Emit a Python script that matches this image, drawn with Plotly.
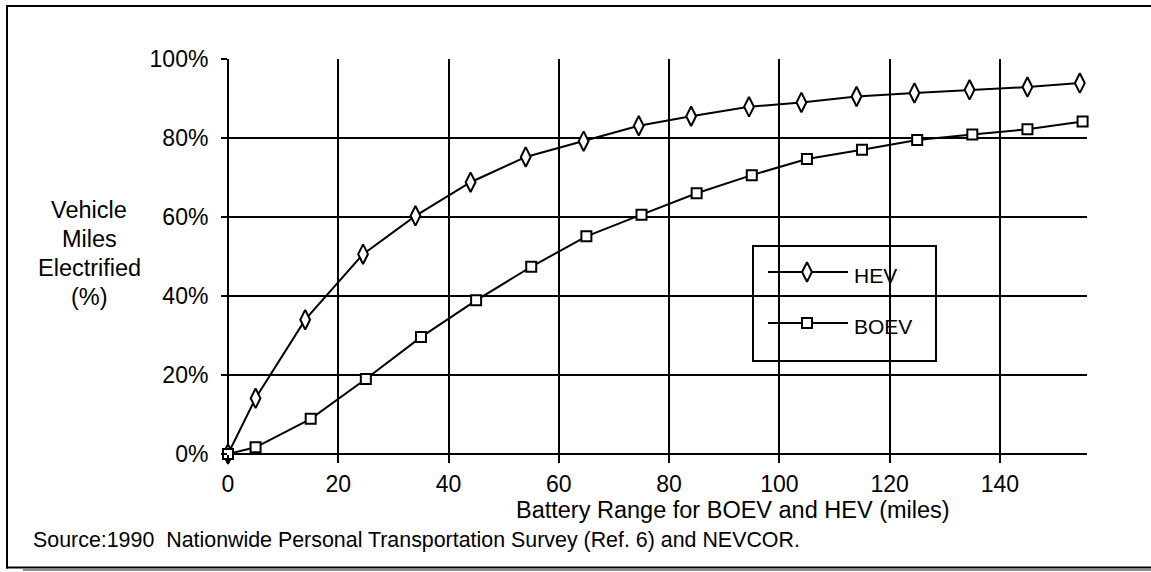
import plotly.graph_objects as go

# Battery range (miles) and share of vehicle miles electrified (%)
hev_range = [0, 5, 14, 24.5, 34, 44, 54, 64.5, 74.5, 84, 94.5, 104, 114, 124.5, 134.5, 145, 154.5]
hev_pct = [0, 14.1, 34.0, 50.6, 60.3, 68.8, 75.2, 79.2, 83.1, 85.5, 87.9, 89.0, 90.5, 91.4, 92.2, 92.9, 93.9]

boev_range = [0, 5, 15, 25, 35, 45, 55, 65, 75, 85, 95, 105, 115, 125, 135, 145, 155]
boev_pct = [0, 1.7, 8.9, 19.0, 29.6, 38.9, 47.4, 55.1, 60.6, 66.0, 70.6, 74.7, 77.0, 79.5, 80.9, 82.2, 84.2]

x_ticks = [0, 20, 40, 60, 80, 100, 120, 140]
y_ticks = [0, 20, 40, 60, 80, 100]
y_tick_labels = ['0%', '20%', '40%', '60%', '80%', '100%']
y_title_lines = ['Vehicle', 'Miles', 'Electrified', '(%)']

FONT = 'Liberation Sans, Arial, sans-serif'

W, H = 1151, 572
# plot area in pixels
L, R, T, B = 228, 1087, 59, 454


def px(x):
    return (x - L) / (R - L)


def py(y):
    return (B - y) / (B - T)


fig = go.Figure()

fig.add_trace(go.Scatter(
    x=hev_range, y=hev_pct, mode='lines+markers', name='HEV',
    line=dict(color='black', width=2),
    marker=dict(symbol='diamond-tall', size=14, color='white',
                line=dict(color='black', width=2)),
    cliponaxis=False, showlegend=False
))

fig.add_trace(go.Scatter(
    x=boev_range, y=boev_pct, mode='lines+markers', name='BOEV',
    line=dict(color='black', width=2),
    marker=dict(symbol='square', size=10, color='white',
                line=dict(color='black', width=2)),
    cliponaxis=False, showlegend=False
))

# hand-drawn legend (samples on an overlay axis spanning the plot area)
legend_items = [('HEV', 'diamond-tall', 14, 272, 275), ('BOEV', 'square', 10, 323, 326)]
for name, symbol, size, line_y, text_y in legend_items:
    fig.add_trace(go.Scatter(
        x=[px(768), px(848)], y=[py(line_y)] * 2, mode='lines',
        line=dict(color='black', width=2), xaxis='x2', yaxis='y2',
        showlegend=False, hoverinfo='skip'
    ))
    fig.add_trace(go.Scatter(
        x=[px(807)], y=[py(line_y)], mode='markers',
        marker=dict(symbol=symbol, size=size, color='white',
                    line=dict(color='black', width=2)),
        xaxis='x2', yaxis='y2', showlegend=False, hoverinfo='skip'
    ))
    fig.add_annotation(
        text=name, xref='paper', yref='paper', x=px(852), y=py(text_y),
        xanchor='left', yanchor='middle', showarrow=False,
        font=dict(size=21, color='black', family=FONT)
    )

# outer frame: left, top and bottom edges (right edge is off the page)
fx0, fy0, fy1, fx1 = 7, 6, 567.5, 1160
shapes = [
    # legend box
    dict(type='rect', xref='paper', yref='paper', layer='between',
         x0=px(753), x1=px(936), y0=py(361), y1=py(246),
         fillcolor='white', line=dict(color='black', width=2)),
    dict(type='line', xref='paper', yref='paper', layer='above',
         x0=px(fx0), x1=px(fx0), y0=py(fy0 - 1), y1=py(fy1 + 1),
         line=dict(color='black', width=2)),
    dict(type='line', xref='paper', yref='paper', layer='above',
         x0=px(fx0 - 1), x1=px(fx1), y0=py(fy0), y1=py(fy0),
         line=dict(color='black', width=2)),
    dict(type='line', xref='paper', yref='paper', layer='above',
         x0=px(fx0 - 1), x1=px(fx1), y0=py(fy1), y1=py(fy1),
         line=dict(color='black', width=2)),
    # frame shadow
    dict(type='line', xref='paper', yref='paper', layer='above',
         x0=px(23), x1=px(fx1), y0=py(570), y1=py(570),
         line=dict(color='#8c8c8c', width=2)),
]

# y title, one annotation per line to keep the tight line spacing
for i, line in enumerate(y_title_lines):
    fig.add_annotation(
        text=line, xref='paper', yref='paper',
        x=px(89), y=py(210 + 29 * i), xanchor='center', yanchor='middle',
        showarrow=False, font=dict(size=23.5, color='black', family=FONT)
    )

fig.add_annotation(
    text='Battery Range for BOEV and HEV (miles)', xref='paper', yref='paper',
    x=px(733), y=py(510), xanchor='center', yanchor='middle', showarrow=False,
    font=dict(size=23.5, color='black', family=FONT)
)
fig.add_annotation(
    text='Source:1990  Nationwide Personal Transportation Survey (Ref. 6) and NEVCOR.',
    xref='paper', yref='paper', x=px(31), y=py(540), xanchor='left', yanchor='middle',
    showarrow=False, font=dict(size=21.4, color='black', family=FONT)
)

fig.update_layout(
    width=W, height=H, autosize=False,
    margin=dict(l=L, r=W - R, t=T, b=H - B, pad=0),
    plot_bgcolor='white', paper_bgcolor='white',
    font=dict(family=FONT, size=23, color='black'),
    shapes=shapes,
    showlegend=False,
    xaxis=dict(
        range=[0, 155.8], tickvals=x_ticks, ticks='outside', ticklen=8,
        tickwidth=2, tickcolor='black', showgrid=True, gridcolor='black',
        gridwidth=2, zeroline=True, zerolinecolor='black', zerolinewidth=2,
        showline=False, tickfont=dict(size=23), ticklabelstandoff=1
    ),
    yaxis=dict(
        range=[0, 100], tickvals=y_ticks, ticktext=y_tick_labels, ticks='outside',
        ticklen=6, tickwidth=2, tickcolor='black', showgrid=True, gridcolor='black',
        gridwidth=2, zeroline=True, zerolinecolor='black', zerolinewidth=2,
        showline=False, tickfont=dict(size=23), ticklabelstandoff=8
    ),
    xaxis2=dict(overlaying='x', range=[0, 1], visible=False, fixedrange=True),
    yaxis2=dict(overlaying='y', range=[0, 1], visible=False, fixedrange=True),
)

# drop the default page margin so the figure sits in the window corner
fig.write_html("out.html", config={'displayModeBar': False},
               post_script="document.body.style.margin='0';"
                           "document.body.style.overflow='hidden';")
